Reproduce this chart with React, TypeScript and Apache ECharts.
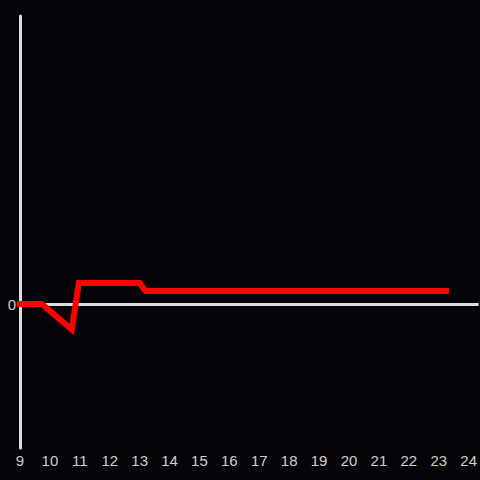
import React, { useEffect, useRef } from "react";
import * as echarts from "echarts";

const xs = [8.9, 9.73, 10.73, 10.97, 13.0, 13.2, 23.35];
const ys = [0, 0, -5.3, 4.4, 4.4, 2.7, 2.7];
const yLabelsShown = [0];

export default function App() {
  const ref = useRef<HTMLDivElement>(null);
  useEffect(() => {
    const chart = echarts.init(ref.current!, null, { renderer: "svg" });
    chart.setOption({
      animation: false,
      backgroundColor: "#060408",
      textStyle: { fontFamily: "Liberation Sans" },
      grid: { left: 20, right: 0, top: 16, bottom: 32 },
      xAxis: {
        type: "value",
        min: 9,
        max: 24 + 1 / 3,
        interval: 1,
        axisLine: { show: false },
        axisTick: { show: false },
        splitLine: { show: false },
        axisLabel: {
          color: "#cfcfcf",
          fontSize: 15,
          fontFamily: "Liberation Sans",
          margin: 5,
          showMaxLabel: false,
          formatter: (v: number) => (Number.isInteger(v) ? String(v) : ""),
        },
      },
      yAxis: {
        type: "value",
        min: -30,
        max: 60,
        interval: 30,
        axisLine: { show: true, onZero: false, lineStyle: { color: "#dcdcdc", width: 3 } },
        axisTick: { show: false },
        splitLine: { show: false },
        axisLabel: {
          color: "#cfcfcf",
          fontSize: 15,
          fontFamily: "Liberation Sans",
          margin: 4,
          formatter: (v: number) => (yLabelsShown.includes(v) ? String(v) : ""),
        },
      },
      series: [
        {
          type: "line",
          data: xs.map((x, i) => [x, ys[i]]),
          showSymbol: false,
          clip: false,
          lineStyle: { color: "#ff0000", width: 6, join: "miter" },
          z: 3,
          markLine: {
            silent: true,
            symbol: "none",
            label: { show: false },
            lineStyle: { color: "#dcdcdc", width: 3, type: "solid" },
            data: [{ yAxis: 0 }],
            z: 2,
          },
        },
      ],
    });
    return () => chart.dispose();
  }, []);
  return <div ref={ref} style={{ position: "fixed", left: 0, top: 0, width: 480, height: 480 }} />;
}
